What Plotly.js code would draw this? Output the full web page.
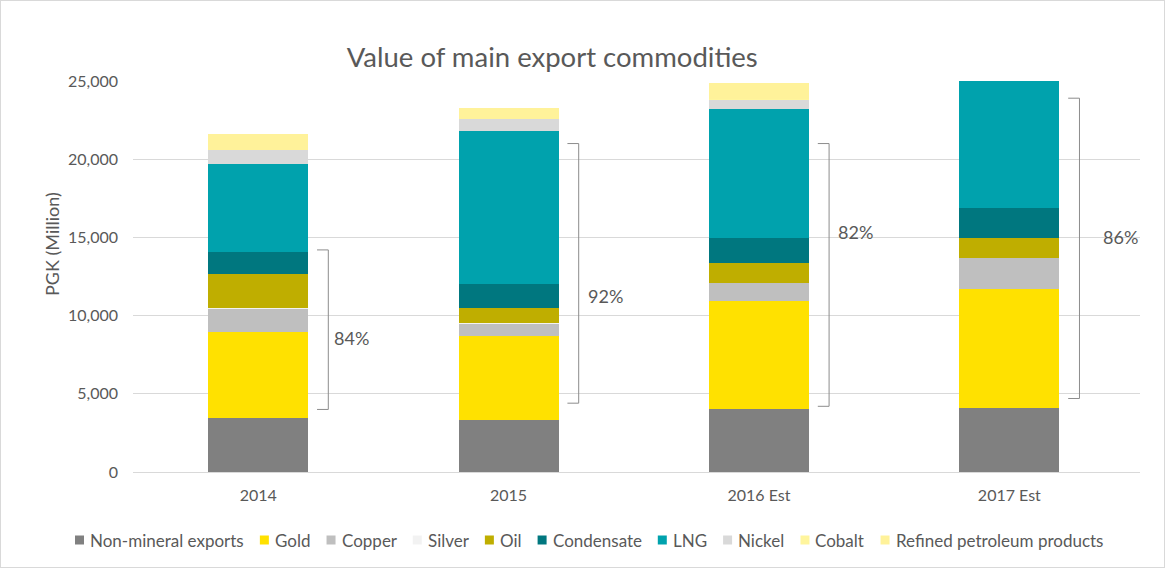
<!DOCTYPE html>
<html>
<head>
<meta charset="utf-8">
<script src="https://cdn.plot.ly/plotly-3.0.1.min.js"></script>
<style>
  html, body { margin: 0; padding: 0; background: #fff; }
  #chart { width: 1163px; height: 566px; border: 1px solid #d9d9d9; }
</style>
</head>
<body>
<div id="chart"></div>
<script>
// ---- Data (PGK million) ----
const years = ['2014', '2015', '2016 Est', '2017 Est'];

const nonMineral = [3450, 3300, 4010, 4070];
const gold       = [5500, 5410, 6920, 7610];
const copper     = [1500, 750, 1130, 1980];
const silver     = [60, 40, 50, 50];
const oil        = [2130, 970, 1270, 1230];
const condensate = [1430, 1530, 1560, 1920];
const lng        = [5650, 9820, 8250, 10600];
const nickel     = [870, 750, 610, 700];
const cobalt     = [30, 20, 30, 30];
const refined    = [980, 710, 1020, 1100];

// Mineral-share brackets
const bracketLow   = [4000, 4400, 4200, 4700];
const bracketHigh  = [14200, 21000, 21000, 23900];
const bracketLabel = ['84%', '92%', '82%', '86%'];
const labelY       = [8600, 11250, 15350, 15050];

// ---- Styling ----
const seriesDefs = [
  ['Non-mineral exports', nonMineral, '#808080'],
  ['Gold', gold, '#FFE100'],
  ['Copper', copper, '#BFBFBF'],
  ['Silver', silver, '#F2F2F2'],
  ['Oil', oil, '#BFAE00'],
  ['Condensate', condensate, '#00777F'],
  ['LNG', lng, '#00A2AD'],
  ['Nickel', nickel, '#D9D9D9'],
  ['Cobalt', cobalt, '#FFF59D'],
  ['Refined petroleum products', refined, '#FFF29A']
];

const FONT = 'Lato, "Open Sans", sans-serif';
const TXT = '#595959';

// geometry of plot area (div pixels)
const W = 1163, H = 566;
const M = { l: 132, r: 24, t: 80, b: 95 };
const PW = W - M.l - M.r, PH = H - M.t - M.b;
const px2paperX = px => (px - M.l) / PW;
const px2paperY = py => (H - M.b - py) / PH;

const traces = seriesDefs.map(([name, vals, color]) => ({
  type: 'bar',
  name: name,
  x: years,
  y: vals,
  marker: { color: color, line: { width: 0 } },
  hoverinfo: 'name+y'
}));

const lineX = 0.28, tickX = 0.235;
const labelOffsets = [0.295, 0.31, 0.307, 0.366];
const shapes = [];
const annotations = [];
years.forEach((yr, i) => {
  const ln = { color: '#8c8c8c', width: 1 };
  shapes.push({ type: 'line', xref: 'x', yref: 'y', x0: i + lineX, x1: i + lineX, y0: bracketLow[i], y1: bracketHigh[i], line: ln });
  shapes.push({ type: 'line', xref: 'x', yref: 'y', x0: i + tickX, x1: i + lineX, y0: bracketLow[i], y1: bracketLow[i], line: ln });
  shapes.push({ type: 'line', xref: 'x', yref: 'y', x0: i + tickX, x1: i + lineX, y0: bracketHigh[i], y1: bracketHigh[i], line: ln });
  annotations.push({
    xref: 'x', yref: 'y', x: i + labelOffsets[i], y: labelY[i],
    text: bracketLabel[i], showarrow: false, xanchor: 'left', yanchor: 'middle',
    font: { family: FONT, size: 18, color: TXT }
  });
});
annotations.push({
  xref: 'paper', yref: 'paper', x: px2paperX(51), y: px2paperY(243),
  text: 'PGK (Million)', showarrow: false, textangle: -90,
  xanchor: 'center', yanchor: 'middle',
  font: { family: FONT, size: 18, color: TXT }
});

// ---- custom single-row legend ----
const LEG_FS = 17, SQ = 9, SQ_GAP = 5;
const canvas = document.createElement('canvas');
const ctx = canvas.getContext('2d');
ctx.font = LEG_FS + 'px Lato';
const widths = seriesDefs.map(s => ctx.measureText(s[0]).width);
const legLeft = 74, legRight = 1101;
const itemGap = (legRight - legLeft - widths.reduce((a, b) => a + b, 0) - seriesDefs.length * (SQ + SQ_GAP)) / (seriesDefs.length - 1);
const legY = 539;
let cx = legLeft;
seriesDefs.forEach((s, i) => {
  shapes.push({
    type: 'rect', xref: 'paper', yref: 'paper', layer: 'above',
    x0: px2paperX(cx), x1: px2paperX(cx + SQ),
    y0: px2paperY(legY + SQ / 2), y1: px2paperY(legY - SQ / 2),
    fillcolor: s[2], line: { width: 0 }
  });
  annotations.push({
    xref: 'paper', yref: 'paper', x: px2paperX(cx + SQ + SQ_GAP - 1), y: px2paperY(legY),
    text: s[0], showarrow: false, xanchor: 'left', yanchor: 'middle',
    font: { family: FONT, size: LEG_FS, color: TXT }
  });
  cx += SQ + SQ_GAP + widths[i] + itemGap;
});

const layout = {
  width: W, height: H,
  margin: M,
  paper_bgcolor: '#ffffff', plot_bgcolor: '#ffffff',
  barmode: 'stack',
  bargap: 0.6,
  showlegend: false,
  title: {
    text: 'Value of main export commodities',
    xref: 'container', x: 0.474, xanchor: 'center',
    yref: 'container', y: 0.9, yanchor: 'middle',
    font: { family: FONT, size: 27.5, color: TXT }
  },
  xaxis: {
    type: 'category',
    tickfont: { family: FONT, size: 16, color: TXT },
    showgrid: false, showline: false, ticks: '',
    ticklabelstandoff: 12,
    fixedrange: true
  },
  yaxis: {
    range: [0, 25000],
    dtick: 5000,
    tickformat: ',d',
    tickfont: { family: FONT, size: 16, color: TXT },
    showgrid: true, gridcolor: '#d9d9d9', gridwidth: 1,
    zeroline: true, zerolinecolor: '#d9d9d9', zerolinewidth: 1,
    showline: false, ticks: '', ticklabelstandoff: 14,
    fixedrange: true
  },
  shapes: shapes,
  annotations: annotations
};

Plotly.newPlot('chart', traces, layout, { displayModeBar: false, staticPlot: true });
</script>
</body>
</html>
